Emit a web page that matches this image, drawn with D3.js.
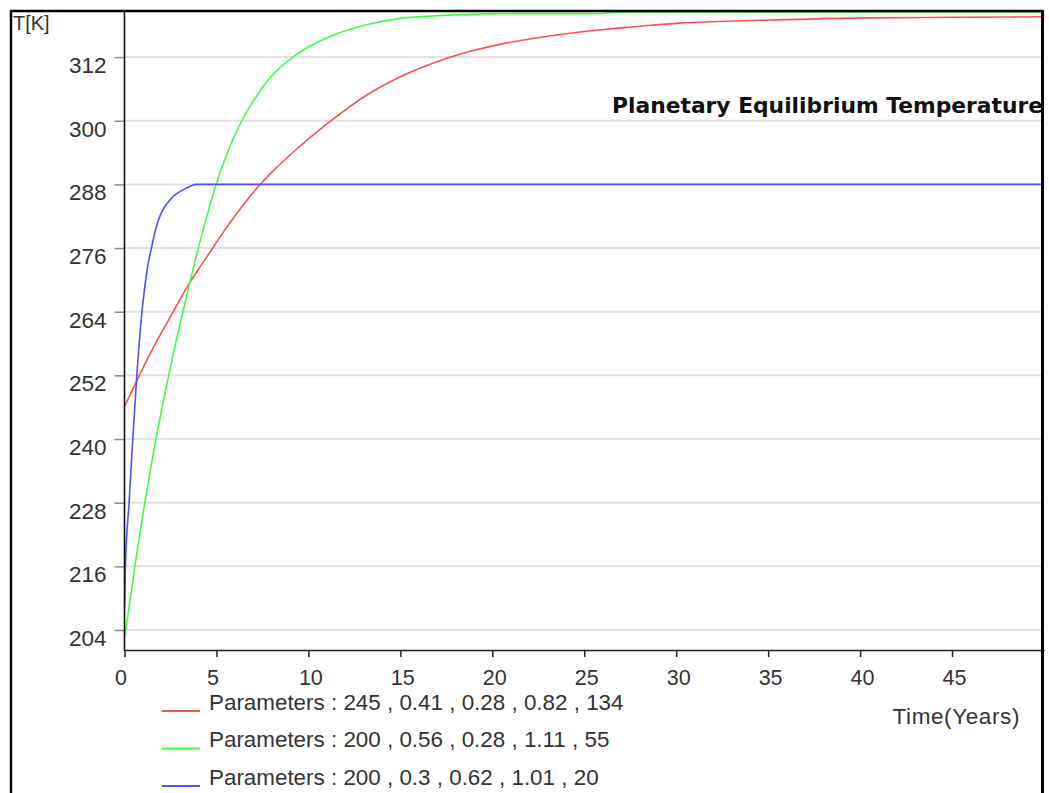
<!DOCTYPE html>
<html>
<head>
<meta charset="utf-8">
<script src="https://cdn.jsdelivr.net/npm/d3@7"></script>
<style>
  html, body { margin: 0; padding: 0; background: #fff; }
  svg { display: block; font-family: "Liberation Sans", Arial, sans-serif; }
</style>
</head>
<body>
<svg id="chart" width="1049" height="793"></svg>
<script>
// --- data ---
const redTime  = [0, 0.6, 1.5, 2.6, 3.5, 4.1, 4.7, 5.2, 6.1, 7.3, 8.1, 9.5, 10.6, 11.3, 13.2, 15, 16.8, 18.6, 20.4, 22.2, 24, 25.8, 27.3, 28.6, 30.2, 32.2, 35.2, 40.3, 45, 50];
const redTemp  = [246.1, 250.5, 256.8, 263.7, 269.2, 272.4, 275.5, 278.1, 282.5, 287.7, 290.6, 295.1, 298.3, 300.2, 304.9, 308.3, 310.9, 312.9, 314.4, 315.5, 316.4, 317.1, 317.6, 318.0, 318.4, 318.7, 319.0, 319.4, 319.5, 319.6];

const greenTime = [0, 0.36, 0.63, 1.0, 1.36, 1.72, 2.08, 2.45, 2.9, 3.45, 3.63, 3.95, 4.44, 5.0, 5.53, 6.26, 6.98, 7.89, 9.4, 10.6, 11.33, 13.15, 15, 16.5, 18.2, 21, 25.8, 27, 50];
const greenTemp = [202.6, 211.0, 217.5, 225.8, 233.2, 240.2, 246.6, 252.8, 259.9, 268.0, 270.6, 275.1, 281.5, 288.2, 293.4, 299.2, 303.6, 308.0, 312.6, 315.0, 316.1, 318.1, 319.3, 319.7, 320.0, 320.2, 320.2, 320.5, 320.5];

const blueTime = [0, 0.05, 0.25, 0.45, 0.67, 0.95, 1.1, 1.25, 1.45, 1.7, 1.9, 2.15, 2.45, 2.7, 2.99, 3.3, 3.6, 3.9, 50];
const blueTemp = [208.4, 216, 228, 240, 252, 264, 268.6, 272.3, 275.8, 279.6, 281.8, 283.6, 285.0, 285.9, 286.6, 287.2, 287.7, 288, 288];

const seriesColors = ['#ff5050', '#40ff40', '#5050ff'];
const legendLabels = [
    'Parameters : 245 , 0.41 , 0.28 , 0.82 , 134',
    'Parameters : 200 , 0.56 , 0.28 , 1.11 , 55',
    'Parameters : 200 , 0.3 , 0.62 , 1.01 , 20'
];
const xTicks = [0, 5, 10, 15, 20, 25, 30, 35, 40, 45];
const yTicks = [204, 216, 228, 240, 252, 264, 276, 288, 300, 312];

const chartTitle = 'Planetary Equilibrium Temperature';
const yLabel = 'T[K]';
const xLabel = 'Time(Years)';

// --- layout ---
const plot = { left: 124.5, right: 1044, top: 12, bottom: 650 };

const svg = d3.select('#chart');

const x = d3.scaleLinear().domain([0, 50]).range([plot.left, plot.right]);
const y = d3.scaleLinear().domain([200.23, 320.5]).range([plot.bottom, plot.top]);

svg.append('defs').append('clipPath').attr('id', 'plot-clip')
    .append('rect')
    .attr('x', plot.left).attr('y', plot.top - 1)
    .attr('width', plot.right - plot.left - 1.5).attr('height', plot.bottom - plot.top + 1);

// gridlines (horizontal only)
svg.append('g').selectAll('line').data(yTicks).join('line')
    .attr('x1', plot.left).attr('x2', plot.right)
    .attr('y1', d => y(d)).attr('y2', d => y(d))
    .attr('stroke', '#e2e2e2').attr('stroke-width', 2);

// title inside the plot, clipped at the right edge
svg.append('text')
    .attr('clip-path', 'url(#plot-clip)')
    .attr('x', 612).attr('y', 113)
    .style('font-family', '"DejaVu Sans", Verdana, sans-serif')
    .style('font-weight', 'bold').style('font-size', '21.8px')
    .attr('fill', '#111')
    .text(chartTitle);

// series
const series = [
    { t: redTime, v: redTemp },
    { t: greenTime, v: greenTemp },
    { t: blueTime, v: blueTemp }
];
const line = d3.line().x(d => x(d[0])).y(d => y(d[1])).curve(d3.curveMonotoneX);

const lines = svg.append('g').attr('clip-path', 'url(#plot-clip)');
series.forEach((s, i) => {
    lines.append('path')
        .datum(s.t.map((t, j) => [t, s.v[j]]))
        .attr('d', line)
        .attr('fill', 'none')
        .attr('stroke', seriesColors[i])
        .attr('stroke-width', 1.6);
});

// y axis
const yAxis = svg.append('g')
    .attr('transform', `translate(${plot.left},0)`)
    .call(d3.axisLeft(y).tickValues(yTicks).tickSize(10).tickSizeOuter(0).tickFormat(d3.format('d')));
yAxis.select('.domain').remove();
yAxis.selectAll('.tick line').attr('stroke', '#8a8a8a').attr('stroke-width', 1.5);
yAxis.selectAll('.tick text')
    .attr('x', -18).attr('dy', null).attr('y', 15.5)
    .style('font-size', '22.5px').attr('fill', '#333')
    .style('font-family', '"Liberation Sans", Arial, sans-serif');
svg.append('line')
    .attr('x1', plot.left).attr('x2', plot.left)
    .attr('y1', plot.top).attr('y2', plot.bottom + 1)
    .attr('stroke', '#111').attr('stroke-width', 1.6);

// x axis
const xAxis = svg.append('g')
    .attr('transform', `translate(0,${plot.bottom})`)
    .call(d3.axisBottom(x).tickValues(xTicks).tickSize(7).tickSizeOuter(0));
xAxis.select('.domain').attr('stroke', '#222').attr('stroke-width', 1.6);
xAxis.selectAll('.tick line').attr('stroke', '#222').attr('stroke-width', 1.5);
xAxis.selectAll('.tick text')
    .attr('text-anchor', 'start').attr('x', -10).attr('dy', null).attr('y', 34.5)
    .style('font-size', '21.5px').attr('fill', '#333')
    .style('font-family', '"Liberation Sans", Arial, sans-serif');

// axis labels
svg.append('text').attr('x', 13).attr('y', 30)
    .style('font-size', '20px').attr('fill', '#333').text(yLabel);
svg.append('text').attr('x', 1020).attr('y', 724).attr('text-anchor', 'end')
    .style('font-size', '22.5px').style('letter-spacing', '0.6px').attr('fill', '#333').text(xLabel);

// legend
const legend = svg.append('g').selectAll('g').data(legendLabels).join('g')
    .attr('transform', (d, i) => `translate(162,${711 + i * 37.5})`);
legend.append('line')
    .attr('x1', 0).attr('x2', 38).attr('y1', 0).attr('y2', 0)
    .attr('stroke', (d, i) => seriesColors[i]).attr('stroke-width', 2);
legend.append('text')
    .attr('x', 47).attr('y', -1.5)
    .style('font-size', '22.4px').attr('fill', '#333')
    .text(d => d);

// outer frame
svg.append('path')
    .attr('d', 'M11,793 V11 H1043')
    .attr('fill', 'none').attr('stroke', '#000').attr('stroke-width', 2.4);
svg.append('line')
    .attr('x1', 1042.5).attr('x2', 1042.5).attr('y1', 10).attr('y2', 793)
    .attr('stroke', '#000').attr('stroke-width', 3);
</script>
</body>
</html>
